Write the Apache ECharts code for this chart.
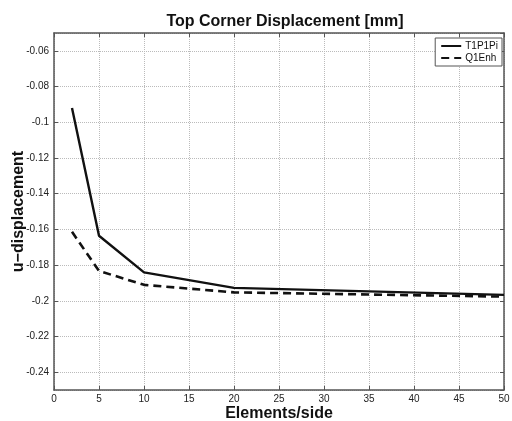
<!DOCTYPE html>
<html>
<head>
<meta charset="utf-8">
<script src="https://cdn.jsdelivr.net/npm/echarts@6/dist/echarts.min.js"></script>
<style>
html,body{margin:0;padding:0;background:#fff;}
#chart{width:512px;height:421px;}
</style>
</head>
<body>
<div id="chart"></div>
<script>
var elements = [2, 5, 10, 20, 50];
var t1p1pi = [-0.092, -0.1636, -0.1841, -0.1928, -0.1967];
var q1enh = [-0.1614, -0.1833, -0.1911, -0.1953, -0.1977];
var seriesNames = ['T1P1Pi', 'Q1Enh'];
var titleText = 'Top Corner Displacement [mm]';
var xName = 'Elements/side';
var yName = 'u\u2212displacement';

function pairs(xs, ys) { return xs.map(function (x, i) { return [x, ys[i]]; }); }

var font = 'Liberation Sans, Arial, Helvetica, sans-serif';
var frame = { show: true, onZero: false, lineStyle: { color: '#555', width: 1.5 } };
var tick = { show: true, inside: true, length: 4, lineStyle: { color: '#555', width: 1 } };
var split = { show: true, lineStyle: { color: '#bbb', type: 'dotted', width: 1 } };

var chart = echarts.init(document.getElementById('chart'), null, { renderer: 'canvas' });
chart.setOption({
  backgroundColor: '#fff',
  animation: false,
  title: {
    text: titleText, left: 280, top: 9, textAlign: 'center',
    textStyle: { fontFamily: font, fontSize: 16, fontWeight: 'bold', color: '#111' }
  },
  legend: {
    data: seriesNames, orient: 'vertical', right: 10, top: 38,
    borderColor: '#555', borderWidth: 1, padding: [3, 4, 3, 5], itemGap: 2,
    itemWidth: 20, itemHeight: 8, backgroundColor: '#fff',
    itemStyle: { opacity: 0 },
    textStyle: { fontFamily: font, fontSize: 10, color: '#111', padding: [0, 0, 0, -1] }
  },
  grid: { left: 54, right: 8, top: 33, bottom: 31, containLabel: false, outerBoundsMode: 'none' },
  xAxis: [{
    type: 'value', min: 0, max: 50, interval: 5, position: 'bottom',
    name: xName, nameLocation: 'middle', nameGap: 16, nameMoveOverlap: false,
    nameTextStyle: { fontFamily: font, fontSize: 16, fontWeight: 'bold', color: '#111' },
    axisLine: frame, axisTick: tick, splitLine: split,
    axisLabel: { fontFamily: font, fontSize: 10, color: '#222', margin: 4 }
  }, {
    type: 'value', min: 0, max: 50, interval: 5, position: 'top',
    axisLine: frame, axisTick: tick, splitLine: { show: false }, axisLabel: { show: false }
  }],
  yAxis: [{
    type: 'value', min: -0.25, max: -0.05, splitNumber: 10, position: 'left',
    name: yName, nameLocation: 'middle', nameGap: 27, nameMoveOverlap: false,
    nameTextStyle: { fontFamily: font, fontSize: 16, fontWeight: 'bold', color: '#111' },
    axisLine: frame, axisTick: tick, splitLine: split,
    axisLabel: { fontFamily: font, fontSize: 10, color: '#222', margin: 5, showMinLabel: false, showMaxLabel: false }
  }, {
    type: 'value', min: -0.25, max: -0.05, splitNumber: 10, position: 'right',
    axisLine: frame, axisTick: tick, splitLine: { show: false }, axisLabel: { show: false }
  }],
  series: [{
    name: seriesNames[0], type: 'line', xAxisIndex: 0, yAxisIndex: 0,
    data: pairs(elements, t1p1pi), symbol: 'none',
    lineStyle: { color: '#111', width: 2.4, type: 'solid' }, itemStyle: { color: '#111' }
  }, {
    name: seriesNames[1], type: 'line', xAxisIndex: 0, yAxisIndex: 0,
    data: pairs(elements, q1enh), symbol: 'none',
    lineStyle: { color: '#111', width: 2.6, type: [8, 5] }, itemStyle: { color: '#111' }
  }]
});
</script>
</body>
</html>
